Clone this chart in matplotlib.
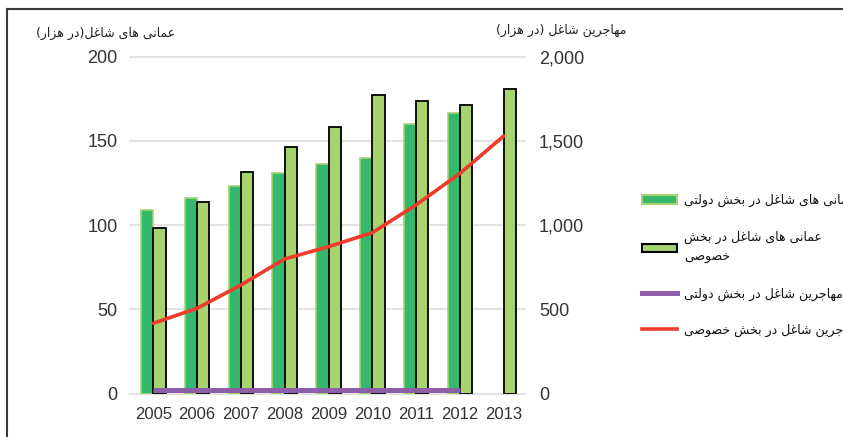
import numpy as np
import matplotlib.pyplot as plt
from matplotlib.lines import Line2D
from matplotlib.patches import Patch

# داده ها
years = ['2005', '2006', '2007', '2008', '2009', '2010', '2011', '2012', '2013']
omani_gov = [109, 116, 123.5, 131, 136, 140, 160, 166.5, np.nan]
omani_private = [98.5, 114, 131.5, 146.5, 158.5, 177, 173.5, 171.5, 181]
expat_gov = [20, 20, 20, 20, 20, 20, 20, 20, np.nan]
expat_private = [417, 506, 644, 799, 872, 955, 1120, 1307, 1529]

left_ticks = [0, 50, 100, 150, 200]
right_ticks = [0, 500, 1000, 1500, 2000]

left_title = 'عمانی های شاغل(در هزار)'
right_title = 'مهاجرین شاغل (در هزار)'
labels = ['عمانی های شاغل در بخش دولتی',
          'عمانی های شاغل در بخش\nخصوصی',
          'مهاجرین شاغل در بخش دولتی',
          'مهاجرین شاغل در بخش خصوصی']

# شکل دادن حروف عربی (بدون کتابخانه بیرونی)
FORMS = {
    'ا': ('\uFE8D', '\uFE8E', None, None),
    'ب': ('\uFE8F', '\uFE90', '\uFE91', '\uFE92'),
    'ت': ('\uFE95', '\uFE96', '\uFE97', '\uFE98'),
    'ج': ('\uFE9D', '\uFE9E', '\uFE9F', '\uFEA0'),
    'خ': ('\uFEA5', '\uFEA6', '\uFEA7', '\uFEA8'),
    'د': ('\uFEA9', '\uFEAA', None, None),
    'ر': ('\uFEAD', '\uFEAE', None, None),
    'ز': ('\uFEAF', '\uFEB0', None, None),
    'ش': ('\uFEB5', '\uFEB6', '\uFEB7', '\uFEB8'),
    'ص': ('\uFEB9', '\uFEBA', '\uFEBB', '\uFEBC'),
    'ع': ('\uFEC9', '\uFECA', '\uFECB', '\uFECC'),
    'غ': ('\uFECD', '\uFECE', '\uFECF', '\uFED0'),
    'ل': ('\uFEDD', '\uFEDE', '\uFEDF', '\uFEE0'),
    'م': ('\uFEE1', '\uFEE2', '\uFEE3', '\uFEE4'),
    'ن': ('\uFEE5', '\uFEE6', '\uFEE7', '\uFEE8'),
    'ه': ('\uFEE9', '\uFEEA', '\uFEEB', '\uFEEC'),
    'و': ('\uFEED', '\uFEEE', None, None),
    'ی': ('\uFEEF', '\uFEF0', '\uFEF3', '\uFEF4'),
}
MIRROR = {'(': ')', ')': '('}


def shape_line(s):
    out = []
    for i, c in enumerate(s):
        if c not in FORMS:
            out.append(MIRROR.get(c, c))
            continue
        prev = s[i - 1] if i > 0 else None
        nxt = s[i + 1] if i + 1 < len(s) else None
        jp = prev in FORMS and FORMS[prev][2] is not None
        jn = nxt in FORMS and FORMS[c][2] is not None
        iso, fin, ini, med = FORMS[c]
        if jp and jn:
            out.append(med)
        elif jp:
            out.append(fin)
        elif jn:
            out.append(ini)
        else:
            out.append(iso)
    return ''.join(out[::-1])


def fa(s):
    return '\n'.join(shape_line(l) for l in s.split('\n'))


plt.rcParams['font.family'] = ['Liberation Sans', 'DejaVu Sans']
AR = ['DejaVu Sans']

fig = plt.figure(figsize=(8.43, 4.37), dpi=100)
ax = fig.add_axes([130 / 843, 43.5 / 437, 395 / 843, 336.8 / 437])
ax2 = ax.twinx()

x = np.arange(len(years))
w = 0.28
b1 = ax.bar(x - w / 2, omani_gov, w, color='#33b96b', edgecolor='#a8d46f',
            linewidth=1.2, zorder=2)
b2 = ax.bar(x + w / 2, omani_private, w, color='#a8d46f', edgecolor='black',
            linewidth=1.3, zorder=2)
l1, = ax2.plot(x, expat_gov, color='#8e5ea8', lw=3.6, solid_capstyle='butt')
l2, = ax2.plot(x, expat_private, color='#ee3b2b', lw=2.6,
               solid_joinstyle='round', solid_capstyle='round')

ax.set_xlim(-0.532, 8.486)
ax.set_ylim(0, 200)
ax2.set_ylim(0, 2000)
ax.set_xticks(x)
ax.set_xticklabels(years)
ax.set_yticks(left_ticks)
ax2.set_yticks(right_ticks)
ax2.set_yticklabels(['{:,}'.format(v) for v in right_ticks])

for a in (ax, ax2):
    for s in a.spines.values():
        s.set_visible(False)
ax.tick_params(axis='x', length=0, pad=10, labelsize=12, labelcolor='#333333')
ax.tick_params(axis='y', length=0, pad=9, labelsize=13, labelcolor='#333333')
ax2.tick_params(axis='y', length=0, pad=10, labelsize=13, labelcolor='#333333')
ax.grid(axis='y', color='#e3e3e3', lw=1.5, zorder=0)
ax.set_axisbelow(True)
for gl in ax.get_ygridlines():
    gl.set_clip_on(False)

fig.text(175 / 843, 1 - 33 / 437, fa(left_title), ha='right', va='center',
         fontsize=9, family=AR, color='#222222')
fig.text(627 / 843, 1 - 30 / 437, fa(right_title), ha='right', va='center',
         fontsize=9, family=AR, color='#222222')

handles = [Patch(facecolor='#33b96b', edgecolor='#a8d46f', lw=1.5),
           Patch(facecolor='#a8d46f', edgecolor='black', lw=1.5),
           Line2D([], [], color='#8e5ea8', lw=3.6),
           Line2D([], [], color='#ee3b2b', lw=2.6)]
leg = fig.legend(handles, [fa(l) for l in labels], loc='upper left',
                 bbox_to_anchor=(636 / 843, 1 - 188 / 437), frameon=False,
                 prop={'family': AR, 'size': 9}, handlelength=2.8,
                 handletextpad=0.55, labelspacing=1.85, borderpad=0)
for t in leg.get_texts():
    t.set_color('#111111')
leg.get_texts()[1].set_linespacing(1.75)

# cadre
fig.add_artist(Line2D([7 / 843, 1], [1 - 9 / 437, 1 - 9 / 437], color='#3a3a3a', lw=1.5))
fig.add_artist(Line2D([7 / 843, 7 / 843], [0, 1 - 9 / 437], color='#3a3a3a', lw=1.5))

fig.savefig('out.png', dpi=100)
